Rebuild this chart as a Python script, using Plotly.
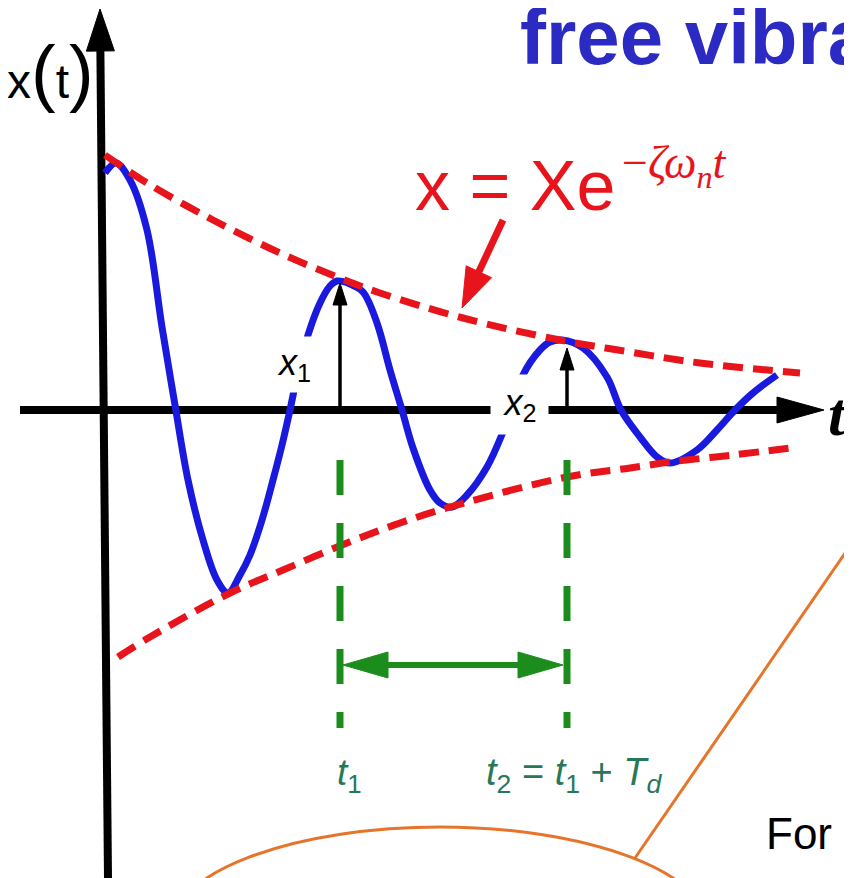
import math
import plotly.graph_objects as go

W, H = 852, 878
PAGE_MARGIN = 8  # default body margin of the written html page

# ---- data (canvas coordinates: t to the right, x downward) ----
# damped response x(t)
resp_t = [105, 116, 130, 147, 162, 175, 188, 203, 217, 228, 240, 250, 262, 273, 282, 290, 298, 308, 320, 330,
          337, 350, 363, 377, 390, 402, 413, 430, 440, 452, 467, 487, 503, 513, 523, 540, 550, 562, 583, 607,
          621, 640, 657, 670, 697, 717, 735, 753, 777]
resp_x = [173, 163, 180, 230, 327, 405, 480, 540, 580, 593, 575, 555, 520, 480, 445, 410, 372, 335, 303, 286,
          281, 284, 292, 323, 370, 410, 448, 490, 503, 507, 495, 467, 432, 405, 375, 350, 342, 340, 348, 377,
          410, 437, 457, 463, 450, 430, 410, 393, 375]

# exponential envelopes  x = ±X e^{-zeta wn t}
env_up_t = [105, 147, 213, 280, 337, 380, 463, 560, 630, 700, 800]
env_up_x = [155, 183, 220, 253, 277, 293, 318, 340, 352, 363, 373]
env_lo_t = [118, 150, 230, 283, 347, 400, 450, 567, 630, 670, 733, 798]
env_lo_x = [657, 637, 593, 570, 543, 523, 507, 477, 468, 462, 455, 447]

# axes (tail, tip)
t_axis = [(20, 410), (824, 410)]
x_axis = [(108, 878), (100, 9)]

# amplitude markers x1, x2 (base, tip)
amp_arrows = [[(340, 410), (340, 283)], [(567, 410), (567, 348)]]
# pointer from the envelope formula
eq_arrow = [(503, 220), (462, 308)]

# period marks t1, t2
period_t = [340, 567]
period_top, period_bottom = 460, 728
period_arrow = [(343, 665), (563, 665)]

# orange callout
callout_ellipse = dict(x0=170, x1=710, y0=827, y1=1033)
callout_line = [(635, 858), (870, 517)]

BLUE = "#1a1adf"
RED = "#e8141c"
GREEN = "#1c8c1c"
TEAL = "#27785a"
ORANGE = "#e5752a"
TITLE = "#2b2bc4"

fig = go.Figure()


def head(tail, tip, length, hw):
    dx, dy = tip[0] - tail[0], tip[1] - tail[1]
    d = math.hypot(dx, dy)
    ux, uy = dx / d, dy / d
    bx, by = tip[0] - ux * length, tip[1] - uy * length
    nx, ny = -uy, ux
    xs = [tip[0], bx + nx * hw, bx - nx * hw, tip[0]]
    ys = [tip[1], by + ny * hw, by - ny * hw, tip[1]]
    return xs, ys, (bx + ux * 2, by + uy * 2)


def arrow(tail, tip, color, width, length, hw, double=False):
    xs, ys, base = head(tail, tip, length, hw)
    start = tail
    if double:
        xs2, ys2, base2 = head(tip, tail, length, hw)
        start = base2
        fig.add_trace(go.Scatter(x=xs2, y=ys2, mode="lines", fill="toself", fillcolor=color,
                                 line=dict(color=color, width=1), hoverinfo="skip"))
    fig.add_trace(go.Scatter(x=[start[0], base[0]], y=[start[1], base[1]], mode="lines",
                             line=dict(color=color, width=width), hoverinfo="skip"))
    fig.add_trace(go.Scatter(x=xs, y=ys, mode="lines", fill="toself", fillcolor=color,
                             line=dict(color=color, width=1), hoverinfo="skip"))


# coordinate axes
arrow(t_axis[0], t_axis[1], "black", 8, 47, 13)
arrow(x_axis[0], x_axis[1], "black", 8, 42, 14)

# response
fig.add_trace(go.Scatter(x=resp_t, y=resp_x, mode="lines", line=dict(color=BLUE, width=7, shape="spline"),
                         hoverinfo="skip"))

# amplitude arrows
for a in amp_arrows:
    arrow(a[0], a[1], "black", 3.5, 22, 7)

# envelopes
fig.add_trace(go.Scatter(x=env_up_t, y=env_up_x, mode="lines",
                         line=dict(color=RED, width=7, shape="spline", dash="20px,10px"), hoverinfo="skip"))
fig.add_trace(go.Scatter(x=env_lo_t, y=env_lo_x, mode="lines",
                         line=dict(color=RED, width=7, shape="spline", dash="20px,10px"), hoverinfo="skip"))

# formula pointer
arrow(eq_arrow[0], eq_arrow[1], RED, 7, 40, 14)

# period marks
for tp in period_t:
    fig.add_trace(go.Scatter(x=[tp, tp], y=[period_top, period_bottom], mode="lines",
                             line=dict(color=GREEN, width=7, dash="35px,28px"), hoverinfo="skip"))
arrow(period_arrow[0], period_arrow[1], GREEN, 6, 45, 13, double=True)

# orange callout
fig.add_trace(go.Scatter(x=[callout_line[0][0], callout_line[1][0]], y=[callout_line[0][1], callout_line[1][1]],
                         mode="lines", line=dict(color=ORANGE, width=3), hoverinfo="skip"))
fig.add_shape(type="circle", xref="x", yref="y", line=dict(color=ORANGE, width=3), **callout_ellipse)

ann = []


def txt(text, x, y, size, color="black", family="Liberation Sans", xanchor="left", **kw):
    ann.append(dict(text=text, x=x, y=y, xref="x", yref="y", xanchor=xanchor, yanchor="middle",
                    showarrow=False, font=dict(size=size, color=color, family=family), **kw))


txt("<b>free vibra</b>", 518, 37, 78, TITLE)
txt("x<span style='font-size:74px'>(</span>t<span style='font-size:74px'>)</span>", 50, 72, 48,
    xanchor="center")
txt("<b><i>t</i></b>", 826, 414, 62, family="Liberation Serif")

txt("<i>x</i><sub>1</sub>", 294, 364, 36, xanchor="center", bgcolor="white", width=46, height=53)
txt("<i>x</i><sub>2</sub>", 519.5, 404, 36, xanchor="center", bgcolor="white", width=55, height=57)

txt("x = Xe", 413, 186, 70, RED)
txt("\u2212<i>\u03b6\u03c9</i><sub><i>n</i></sub><i>t</i>", 620, 166, 46, RED, family="Liberation Serif")

txt("<i>t</i><sub>1</sub>", 335, 775, 37, TEAL)
txt("<i>t</i><sub>2</sub> = <i>t</i><sub>1</sub> + <i>T</i><sub><i>d</i></sub>", 484, 775, 38, TEAL)
txt("For l", 764, 833, 44)

fig.update_layout(
    width=W - PAGE_MARGIN, height=H - PAGE_MARGIN, margin=dict(l=0, r=0, t=0, b=0),
    paper_bgcolor="white", plot_bgcolor="white", showlegend=False,
    xaxis=dict(range=[PAGE_MARGIN, W], visible=False, fixedrange=True),
    yaxis=dict(range=[H, PAGE_MARGIN], visible=False, fixedrange=True),
    annotations=ann,
)

fig.write_html("out.html")
